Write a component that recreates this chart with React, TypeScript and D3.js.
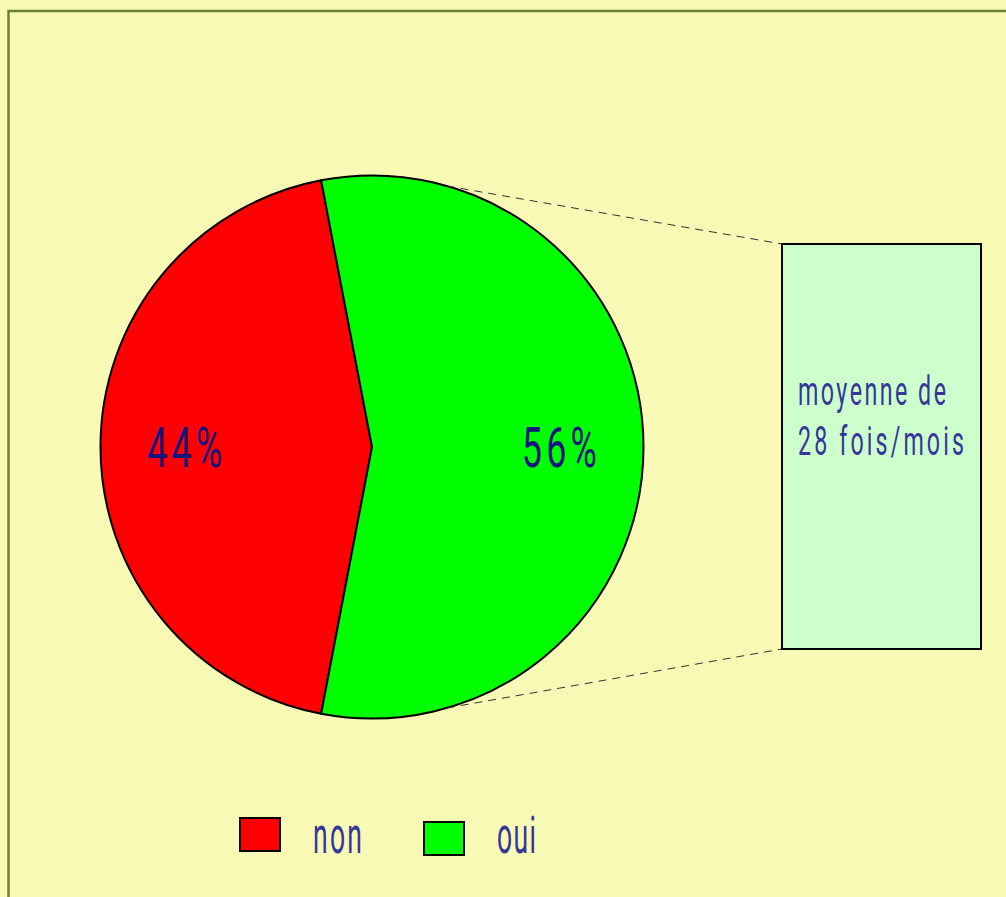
import { useEffect, useRef } from "react";
import * as d3 from "d3";

const categories = ["non", "oui"];
const shares = [44, 56];
const sliceColors = ["#FF0000", "#00FF00"];
const noteLines = ["moyenne de", "28 fois/mois"];

const W = 1006, H = 897;
const FONT = "Roboto, 'Liberation Sans', sans-serif";

// narrow text: glyphs squeezed by sx, spacing stretched to reach the wanted width
function narrowText(
  parent: d3.Selection<any, unknown, null, undefined>,
  x: number, y: number, txt: string, size: number, width: number, fill: string, sx: number
) {
  return parent.append("text")
    .attr("transform", `translate(${x},${y}) scale(${sx},1)`)
    .attr("fill", fill).attr("font-family", FONT).attr("font-size", size)
    .attr("textLength", width / sx).attr("lengthAdjust", "spacing")
    .text(txt);
}

export default function App() {
  const ref = useRef<SVGSVGElement>(null);

  useEffect(() => {
    const el = ref.current;
    if (!el) return;
    const svg = d3.select(el);
    svg.selectAll("*").remove();

    // page background + olive frame
    svg.append("rect").attr("x", 0).attr("y", 0).attr("width", W).attr("height", H).attr("fill", "#F7F9B5");
    svg.append("rect").attr("x", 8.5).attr("y", 11).attr("width", W + 20).attr("height", H + 20)
      .attr("fill", "none").attr("stroke", "#6F8233").attr("stroke-width", 2.5);

    // pie
    const cx = 372, cy = 447, r = 271.5;
    const total = d3.sum(shares);
    const nonSpan = (shares[0] / total) * 2 * Math.PI;
    const start = (3 * Math.PI) / 2 - nonSpan / 2; // "non" centred on the left
    const pie = d3.pie<number>().sort(null).startAngle(start).endAngle(start + 2 * Math.PI);
    const arcs = pie(shares);
    const arc = d3.arc<d3.PieArcDatum<number>>().innerRadius(0).outerRadius(r);
    const g = svg.append("g").attr("transform", `translate(${cx},${cy})`);
    g.selectAll("path").data(arcs).join("path")
      .attr("d", arc as any).attr("fill", (_d, i) => sliceColors[i])
      .attr("stroke", "#000").attr("stroke-width", 2).attr("stroke-linejoin", "round");

    const labelArc = d3.arc<d3.PieArcDatum<number>>().innerRadius(r * 0.69).outerRadius(r * 0.69);
    arcs.forEach((d) => {
      const [lx, ly] = labelArc.centroid(d);
      narrowText(g, lx - 37.5, ly + 20, `${Math.round((d.value / total) * 100)}%`, 56, 75, "#14147E", 0.64);
    });

    // note box with connector lines
    const box = { x: 782, y: 244, w: 199, h: 405 };
    const a = (16 * Math.PI) / 180;
    const px = cx + r * Math.sin(a);
    const pyTop = cy - r * Math.cos(a), pyBot = cy + r * Math.cos(a);
    [[pyTop, box.y], [pyBot, box.y + box.h]].forEach(([py, by]) => {
      svg.append("line").attr("x1", px).attr("y1", py).attr("x2", box.x).attr("y2", by)
        .attr("stroke", "#333").attr("stroke-width", 1).attr("stroke-dasharray", "8 6");
    });
    svg.append("rect").attr("x", box.x).attr("y", box.y).attr("width", box.w).attr("height", box.h)
      .attr("fill", "#CCFFCC").attr("stroke", "#000").attr("stroke-width", 2);
    const noteW = [148, 166];
    noteLines.forEach((t, i) => narrowText(svg as any, 798, 405 + i * 50, t, 40, noteW[i], "#36369A", 0.58));

    // legend
    const legX = d3.scalePoint<string>().domain(categories).range([240, 424]);
    const legTextW = [49, 39];
    const leg = svg.append("g");
    categories.forEach((c, i) => {
      const x = legX(c) ?? 0;
      const y = i === 0 ? 818 : 822;
      leg.append("rect").attr("x", x).attr("y", y).attr("width", 40).attr("height", 33)
        .attr("fill", sliceColors[i]).attr("stroke", "#000").attr("stroke-width", 2);
      narrowText(leg as any, x + 73, 853, c, 51, legTextW[i], "#36369A", 0.52);
    });
  }, []);

  return (
    <svg ref={ref} width={W} height={H} viewBox={`0 0 ${W} ${H}`}
      style={{ position: "absolute", left: 0, top: 0, display: "block" }} />
  );
}
